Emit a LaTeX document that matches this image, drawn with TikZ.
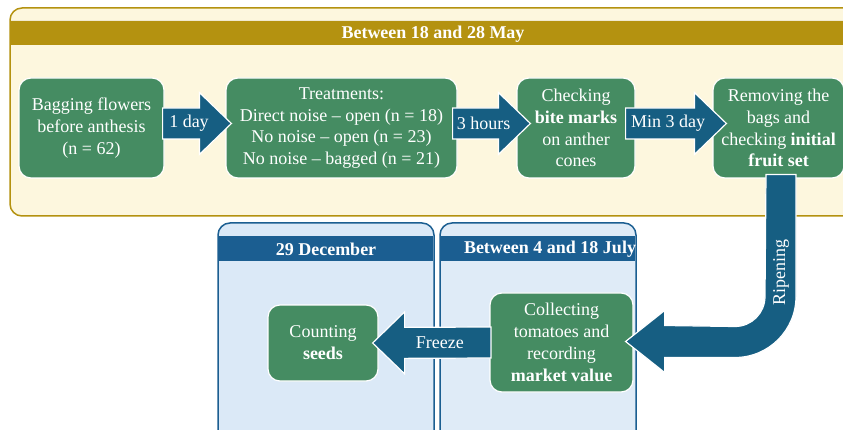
\documentclass[tikz,border=0pt]{standalone}
\usepackage{fontspec}
\setmainfont{Liberation Serif}
\usepackage{tikz}
\usetikzlibrary{positioning,calc}
\definecolor{stagegold}{HTML}{B49210}
\definecolor{stagecream}{HTML}{FDF7DE}
\definecolor{stepgreen}{HTML}{458C62}
\definecolor{flowblue}{HTML}{165E82}
\definecolor{panelblue}{HTML}{1B5E91}
\definecolor{panelfill}{HTML}{DBE9F7}
\definecolor{panelfilltwo}{HTML}{DFEBF7}
\tikzset{
  stepbox/.style={draw=white, line width=1.2pt, fill=stepgreen, rounded corners=12pt,
    text=white, align=center, font=\fontsize{18}{21.8}\selectfont, inner sep=0pt},
  flowarrow/.style={draw=white, line width=1.2pt, fill=flowblue, line join=miter},
  flowlabel/.style={text=white, font=\fontsize{18}{21.8}\selectfont, inner sep=0pt},
  bandtext/.style={text=white, font=\fontsize{18}{21.8}\selectfont\bfseries, inner sep=0pt},
  stagepanel/.style={draw=stagegold, fill=stagecream, line width=1.5pt, rounded corners=12pt},
  monthpanel/.style={draw=panelblue, line width=1.5pt, rounded corners=12pt}
}
% block arrow: #1 tail, #2 tip, #3 label name, #4 label
\newcommand{\blockflow}[4]{%
  \coordinate (hb) at ($(#2)!32pt!(#1)$);
  \draw[flowarrow] ($(#1)+(0,15.5)$) -- ($(hb)+(0,15.5)$) -- ($(hb)+(0,31)$) -- (#2)
    -- ($(hb)+(0,-31)$) -- ($(hb)+(0,-15.5)$) -- ($(#1)+(0,-15.5)$) -- cycle;
  \node[flowlabel] (#3) at ($(#1)!0.5!(#2)!8pt!(#1)$) {#4};}

\begin{document}
\begin{tikzpicture}[x=1pt, y=-1pt]
  \useasboundingbox (0,0) rectangle (843,430);

  % May panel
  \draw[stagepanel] (10,8) rectangle (880,216);
  \fill[stagegold] (10.75,20) rectangle (880,45.5);
  \draw[white!80!stagegold, line width=0.8pt] (10.75,20) -- (880,20);
  \node[bandtext] (mayhead) at (433,34) {Between 18 and 28 May};

  % July and December panels
  \draw[monthpanel, fill=panelfill] (218,223) rectangle (434,460);
  \fill[panelblue] (218.75,236) rectangle (433.25,261);
  \node[bandtext] (dechead) at (326,249.5) {29 December};
  \draw[monthpanel, fill=panelfilltwo] (440,223) rectangle (636,460);
  \fill[panelblue] (440.75,236) rectangle (635.25,261);
  \node[bandtext] (julhead) at (550,249.5) {Between 4 and 18 July};

  % steps
  \node[stepbox, minimum width=145, minimum height=100] (bagging) at (91.5,128)
    {Bagging flowers\\before anthesis\\(n = 62)};
  \node[stepbox, minimum width=231, minimum height=100] (treatments) at (341.5,128)
    {Treatments:\\Direct noise -- open (n = 18)\\No noise -- open (n = 23)\\No noise -- bagged (n = 21)};
  \node[stepbox, minimum width=118, minimum height=100] (checking) at (576,128)
    {Checking\\\textbf{bite marks}\\on anther\\cones};
  \node[stepbox, minimum width=131, minimum height=100] (removing) at (778.5,128)
    {Removing the\\bags and\\checking \textbf{initial}\\\textbf{fruit set}};
  \node[stepbox, minimum width=143, minimum height=99] (collecting) at (561.5,342.5)
    {Collecting\\tomatoes and\\recording\\\textbf{market value}};
  \node[stepbox, minimum width=110, minimum height=76] (counting) at (323,343)
    {Counting\\\textbf{seeds}};

  % arrows along the May row
  \coordinate (t1) at ($(bagging.east)+(-2,-4.5)$);
  \coordinate (h1) at ($(treatments.west)+(6,-4.5)$);
  \blockflow{t1}{h1}{oneday}{1 day}
  \coordinate (t2) at ($(treatments.east)+(-5,-4.5)$);
  \coordinate (h2) at ($(checking.west)+(14,-4.5)$);
  \blockflow{t2}{h2}{threehours}{3 hours}
  \coordinate (t3) at ($(checking.east)+(-10,-4.5)$);
  \coordinate (h3) at ($(removing.west)+(14,-4.5)$);
  \blockflow{t3}{h3}{minthree}{Min 3 day}

  % ripening bend
  \coordinate (ripetop) at ($(removing.south)+(2.5,-4)$);
  \coordinate (ripetip) at ($(collecting.east)+(-8,-1)$);
  \draw[flowarrow] ($(ripetop)+(15,0)$) -- ($(ripetop |- ripetip)+(15,-45)$) arc(0:90:61)
    -- ($(ripetip)+(39,16)$) -- ++(0,15) -- (ripetip) -- ++(39,-31) -- ++(0,15)
    -- ($(ripetop |- ripetip)+(-46,-15)$) arc(90:0:30) -- ($(ripetop)+(-15,0)$) -- cycle;
  \node[flowlabel, rotate=90] (ripening) at ($(ripetop)+(0,98)$) {Ripening};

  % freeze
  \coordinate (t4) at ($(collecting.west)+(1.5,0)$);
  \coordinate (h4) at ($(counting.east)+(-6,0)$);
  \blockflow{t4}{h4}{freeze}{Freeze}
\end{tikzpicture}
\end{document}
